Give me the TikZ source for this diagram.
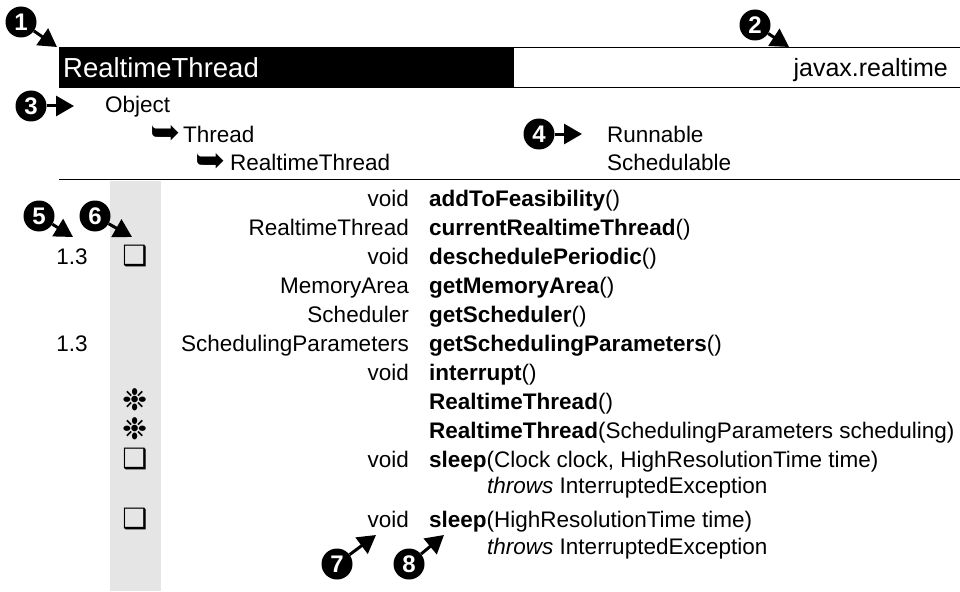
\documentclass[tikz,border=0pt]{standalone}
\usepackage{fontspec}
\setmainfont{Liberation Sans}
\newfontfamily\symfont{DejaVu Sans}
\usetikzlibrary{arrows.meta}
\tikzset{
  body/.style={inner sep=0pt, font=\fontsize{22.5}{27}\selectfont},
  rtype/.style={body, anchor=base east},
  meth/.style={body, anchor=base west},
  ver/.style={body, anchor=base},
  marker/.style={circle, fill=black, minimum size=31pt, inner sep=0pt, text=white,
    font=\fontsize{24}{24}\selectfont\bfseries},
  markarrow/.style={line width=3pt, -{Triangle[length=18pt,width=20pt]}},
  sqicon/.style={inner sep=0pt, anchor=base, font=\symfont\fontsize{28}{28}\selectfont},
  staricon/.style={inner sep=0pt, anchor=base, font=\symfont\fontsize{30}{30}\selectfont},
  hier/.style={body, anchor=base west},
  harrow/.style={inner sep=0pt, anchor=base west, font=\symfont\fontsize{36}{36}\selectfont},
}
\begin{document}
\begin{tikzpicture}[x=1pt,y=-1pt]
\useasboundingbox (0,0) rectangle (960,591);
% gray column
\fill[gray!20] (110,181) rectangle (161,591);
% header
\fill[black] (59,47) rectangle (514,88);
\draw[line width=1.5pt] (514,47.5) -- (962,47.5);
\draw[line width=1.5pt] (514,87.5) -- (962,87.5);
\node[inner sep=0pt, anchor=base west, text=white, font=\fontsize{27.5}{30}\selectfont] (title) at (63,78) {RealtimeThread};
\node[inner sep=0pt, anchor=base east, font=\fontsize{25}{30}\selectfont] (pkg) at (948,77) {javax.realtime};
% hierarchy
\node[hier] (obj) at (105,113) {Object};
\node[harrow] (ha1) at (150,144) {➥};
\node[hier] (thr) at (183,142) {Thread};
\node[harrow] (ha2) at (195,172) {➥};
\node[hier] (rtt) at (230,170) {RealtimeThread};
\node[hier] (run) at (607,142) {Runnable};
\node[hier] (sch) at (607,170) {Schedulable};
% rule
\draw[line width=1.5pt] (59,179.5) -- (960,179.5);
% rows
\node[rtype] (r1t) at (409,206) {void};
\node[meth] (r1m) at (429,206) {\textbf{addToFeasibility}()};
\node[rtype] (r2t) at (409,235) {RealtimeThread};
\node[meth] (r2m) at (429,235) {\textbf{currentRealtimeThread}()};
\node[ver] (r3v) at (72,264) {1.3};
\node[sqicon] (r3i) at (135,265) {❑};
\node[rtype] (r3t) at (409,264) {void};
\node[meth] (r3m) at (429,264) {\textbf{deschedulePeriodic}()};
\node[rtype] (r4t) at (409,293) {MemoryArea};
\node[meth] (r4m) at (429,293) {\textbf{getMemoryArea}()};
\node[rtype] (r5t) at (409,322) {Scheduler};
\node[meth] (r5m) at (429,322) {\textbf{getScheduler}()};
\node[ver] (r6v) at (72,351) {1.3};
\node[rtype] (r6t) at (409,351) {SchedulingParameters};
\node[meth] (r6m) at (429,351) {\textbf{getSchedulingParameters}()};
\node[rtype] (r7t) at (409,380) {void};
\node[meth] (r7m) at (429,380) {\textbf{interrupt}()};
\node[staricon] (r8i) at (135,410) {❉};
\node[meth] (r8m) at (429,409) {\textbf{RealtimeThread}()};
\node[staricon] (r9i) at (135,439) {❉};
\node[meth] (r9m) at (429,438) {\textbf{RealtimeThread}(SchedulingParameters scheduling)};
\node[sqicon] (r10i) at (135,468) {❑};
\node[rtype] (r10t) at (409,467) {void};
\node[meth] (r10m) at (429,467) {\textbf{sleep}(Clock clock, HighResolutionTime time)};
\node[meth] (r11m) at (487,493) {\textit{throws} InterruptedException};
\node[sqicon] (r12i) at (135,528) {❑};
\node[rtype] (r12t) at (409,527) {void};
\node[meth] (r12m) at (429,527) {\textbf{sleep}(HighResolutionTime time)};
\node[meth] (r13m) at (487,554) {\textit{throws} InterruptedException};
% markers
\node[marker] (m1) at (21,22) {1};
\coordinate (t1) at (57,47);
\draw[markarrow] (m1) -- (t1);
\node[marker] (m2) at (755,25) {2};
\coordinate (t2) at (789,47);
\draw[markarrow] (m2) -- (t2);
\node[marker] (m3) at (31,106) {3};
\coordinate (t3) at (74,106);
\draw[markarrow] (m3) -- (t3);
\node[marker] (m4) at (539,134) {4};
\coordinate (t4) at (582,134);
\draw[markarrow] (m4) -- (t4);
\node[marker] (m5) at (39,216) {5};
\coordinate (t5) at (73,237);
\draw[markarrow] (m5) -- (t5);
\node[marker] (m6) at (95,216) {6};
\coordinate (t6) at (132,237);
\draw[markarrow] (m6) -- (t6);
\node[marker] (m7) at (337,564) {7};
\coordinate (t7) at (376,535);
\draw[markarrow] (m7) -- (t7);
\node[marker] (m8) at (409,564) {8};
\coordinate (t8) at (444,535);
\draw[markarrow] (m8) -- (t8);
\end{tikzpicture}
\end{document}
